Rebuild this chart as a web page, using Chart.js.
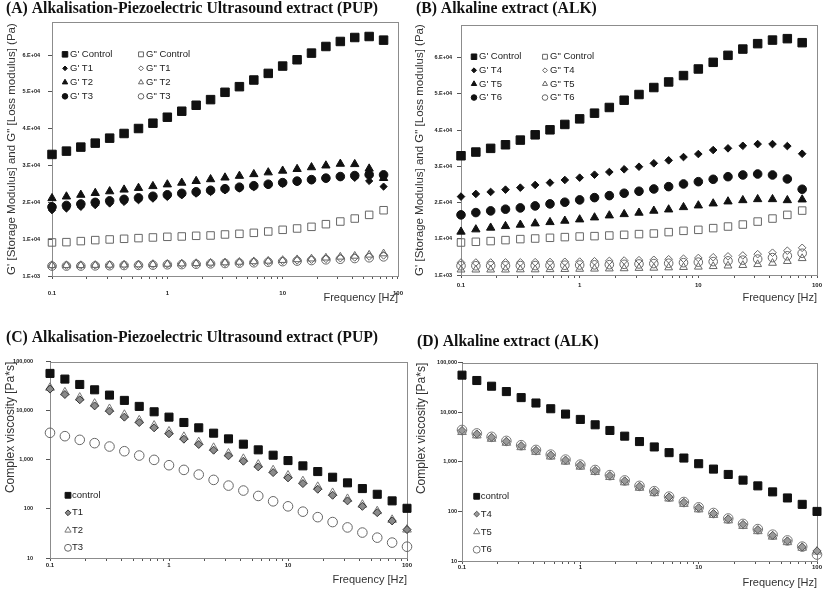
<!DOCTYPE html>
<html>
<head>
<meta charset="utf-8">
<script src="https://cdn.jsdelivr.net/npm/chart.js@4.4.1/dist/chart.umd.min.js"></script>
<style>
  html, body { margin: 0; padding: 0; background: #fff; }
  body { position: relative; width: 827px; height: 592px; overflow: hidden; }
  canvas { position: absolute; }
</style>
</head>
<body>
<canvas id="chartA" width="414" height="308" style="left:0;top:0"></canvas>
<canvas id="chartB" width="417" height="308" style="left:410px;top:0"></canvas>
<canvas id="chartC" width="414" height="266" style="left:0;top:326px"></canvas>
<canvas id="chartD" width="417" height="266" style="left:410px;top:326px"></canvas>
<script>
// frequency sweep, 8 points per decade
const freqHz = [0.1, 0.1334, 0.1778, 0.2371, 0.3162, 0.4217, 0.5623, 0.7499,
  1, 1.334, 1.778, 2.371, 3.162, 4.217, 5.623, 7.499,
  10, 13.34, 17.78, 23.71, 31.62, 42.17, 56.23, 74.99, 100];

const xTickValues = [0.1, 1, 10, 100];
const xTickLabels = ['0.1', '1', '10', '100'];
const modTickValues = [1000, 11000, 21000, 31000, 41000, 51000, 61000];
const modTickLabels = ['1.E+03', '1.E+04', '2.E+04', '3.E+04', '4.E+04', '5.E+04', '6.E+04'];
const viscTickValues = [10, 100, 1000, 10000, 100000];
const viscTickLabels = ['10', '100', '1,000', '10,000', '100,000'];

// (A) PUP - storage / loss modulus (Pa)
const pupGpControl = [34030, 34930, 36020, 37100, 38450, 39720, 41070, 42520, 44140, 45770, 47390, 48920, 50910, 52440, 54250, 56050, 58040, 59750, 61560, 63360, 64720, 65800, 66070, 65080];
const pupGppControl = [10120, 10200, 10480, 10750, 10930, 11110, 11290, 11470, 11650, 11740, 11920, 12010, 12280, 12460, 12730, 13090, 13550, 13910, 14360, 15080, 15800, 16610, 17610, 18870];
const pupGpT1 = [18870, 19330, 19770, 20230, 20690, 21120, 21580, 22010, 22470, 22910, 23370, 23800, 24260, 24720, 25150, 25610, 26050, 26510, 26940, 27400, 27810, 27670, 26810, 25290];
const pupGppT1 = [3850, 3850, 3850, 3900, 3950, 4000, 4050, 4100, 4200, 4250, 4350, 4450, 4550, 4650, 4800, 4950, 5100, 5250, 5450, 5650, 5850, 6050, 6300, 6600];
const pupGpT2 = [22120, 22580, 23040, 23530, 23990, 24450, 24910, 25400, 25860, 26320, 26780, 27270, 27730, 28190, 28650, 29130, 29590, 30050, 30520, 31000, 31460, 31380, 30160, 27600];
const pupGppT2 = [3900, 3900, 3900, 3950, 4000, 4050, 4100, 4200, 4250, 4350, 4450, 4550, 4650, 4800, 4950, 5100, 5300, 5500, 5700, 5950, 6200, 6450, 6750, 7100];
const pupGpT3 = [19770, 20170, 20580, 21010, 21420, 21820, 22230, 22660, 23070, 23470, 23880, 24290, 24720, 25130, 25530, 25940, 26370, 26780, 27180, 27590, 28020, 28290, 28540, 28480];
const pupGppT3 = [3700, 3700, 3700, 3750, 3800, 3850, 3900, 3950, 4050, 4100, 4200, 4300, 4400, 4500, 4600, 4750, 4900, 5050, 5200, 5400, 5550, 5750, 5950, 6200];

// (B) ALK - storage / loss modulus (Pa)
const alkGpControl = [33920, 34940, 35960, 36950, 38240, 39700, 41080, 42560, 44100, 45670, 47240, 49250, 50820, 52750, 54290, 56050, 57870, 59710, 61640, 63370, 64860, 65850, 66240, 65130];
const alkGppControl = [9970, 10170, 10360, 10630, 10910, 11070, 11270, 11460, 11620, 11730, 11900, 12090, 12290, 12450, 12840, 13190, 13470, 13940, 14380, 14930, 15750, 16580, 17600, 18780];
const alkGpT4 = [22640, 23380, 23930, 24560, 25110, 25860, 26490, 27230, 27870, 28690, 29430, 30180, 30890, 31830, 32650, 33560, 34390, 35490, 35960, 36670, 37140, 37140, 36590, 34470];
const alkGppT4 = [4450, 4450, 4450, 4480, 4500, 4550, 4600, 4650, 4700, 4800, 4900, 5000, 5100, 5200, 5350, 5500, 5700, 5900, 6150, 6400, 6750, 7150, 7700, 8500];
const alkGpT5 = [12940, 13570, 14040, 14480, 14860, 15220, 15580, 15960, 16320, 16870, 17420, 17780, 18170, 18720, 19070, 19710, 20180, 20730, 21280, 21630, 21910, 21910, 21630, 21830];
const alkGppT5 = [2450, 2450, 2450, 2450, 2500, 2500, 2550, 2600, 2650, 2700, 2750, 2800, 2900, 2950, 3050, 3150, 3250, 3400, 3550, 3700, 3950, 4300, 4800, 5600];
const alkGpT6 = [17600, 18230, 18700, 19170, 19520, 20070, 20630, 21090, 21730, 22360, 22910, 23570, 24120, 24750, 25390, 26130, 26760, 27420, 28140, 28610, 28880, 28610, 27510, 24670];
const alkGppT6 = [3550, 3550, 3550, 3550, 3600, 3600, 3650, 3700, 3750, 3800, 3850, 3950, 4050, 4150, 4250, 4400, 4550, 4700, 4900, 5100, 5400, 5800, 6300, 7000];

// (C) PUP - complex viscosity (Pa*s)
const pupViscControl = [57800, 44300, 34400, 26800, 20900, 16300, 12300, 9550, 7430, 5780, 4500, 3500, 2680, 2090, 1600, 1245, 968, 755, 578, 443, 340, 260, 199, 146, 103];
const pupViscT1 = [27700, 21500, 16800, 12600, 9850, 7430, 5780, 4500, 3400, 2640, 2060, 1575, 1210, 940, 720, 551, 430, 329, 252, 190, 146, 113, 84, 57, 38];
const pupViscT2 = [29500, 23800, 18600, 14000, 10900, 8300, 6400, 5000, 3800, 2950, 2300, 1760, 1350, 1050, 800, 615, 480, 368, 282, 212, 160, 122, 90, 60, 38];
const pupViscT3 = [3560, 3040, 2560, 2190, 1870, 1500, 1225, 1000, 778, 625, 502, 391, 299, 237, 184, 143, 113, 88, 68, 54, 42, 33, 26, 20.6, 17];

// (D) ALK - complex viscosity (Pa*s)
const alkViscControl = [56200, 43800, 33600, 26200, 19800, 15400, 11800, 9210, 7180, 5600, 4300, 3300, 2570, 2000, 1535, 1195, 918, 715, 557, 428, 328, 248, 187, 139, 100];
const alkViscT4 = [4300, 3670, 3140, 2610, 2130, 1710, 1380, 1090, 863, 672, 532, 415, 323, 252, 196, 153, 119, 91, 71, 55, 43, 33, 25.5, 19.2, 16];
const alkViscT5 = [4000, 3420, 2920, 2430, 1980, 1590, 1280, 1010, 800, 625, 495, 386, 300, 234, 182, 142, 110, 85, 66, 51, 40, 31, 24, 18.5, 15.5];
const alkViscT6 = [4400, 3750, 3200, 2650, 2170, 1740, 1400, 1110, 880, 685, 540, 422, 328, 256, 199, 155, 121, 93, 72, 56, 44, 34, 26, 19.5, 13.5];

const SANS = "'Liberation Sans', Arial, sans-serif";
const SERIF = "'Liberation Serif', 'Times New Roman', serif";
const INK = '#111';
const OPEN = 'rgba(0,0,0,0)';

Chart.defaults.font.family = SANS;
Chart.defaults.color = '#222';

function pts(vals) {
  return vals.map((v, i) => ({ x: freqHz[i], y: v }));
}

function series(label, vals, shape, radius, fill, edge) {
  return {
    label: label,
    data: pts(vals),
    pointStyle: shape,
    pointRadius: radius,
    pointHoverRadius: radius,
    pointBackgroundColor: fill,
    pointBorderColor: edge,
    pointBorderWidth: 1,
    showLine: false,
    clip: false
  };
}

// box round the plot area
const framePlugin = {
  id: 'frame',
  beforeDatasetsDraw(chart) {
    const { ctx, chartArea: a } = chart;
    ctx.save();
    ctx.strokeStyle = '#8c8c8c';
    ctx.lineWidth = 1;
    ctx.strokeRect(Math.round(a.left) + 0.5, Math.round(a.top) + 0.5,
      Math.round(a.right - a.left), Math.round(a.bottom - a.top));
    ctx.restore();
  }
};

// Excel style legend: fixed grid of markers + labels inside the plot
const gridLegend = {
  id: 'gridLegend',
  afterDraw(chart, args, o) {
    const { ctx, chartArea: a } = chart;
    ctx.save();
    ctx.font = o.font;
    ctx.textBaseline = 'middle';
    chart.data.datasets.forEach((ds, i) => {
      const col = i % o.cols;
      const row = Math.floor(i / o.cols);
      const x = a.left + o.x + col * o.colWidth;
      const y = (o.fromBottom ? a.bottom : a.top) + o.y + row * o.rowHeight;
      ctx.fillStyle = ds.pointBackgroundColor;
      ctx.strokeStyle = ds.pointBorderColor;
      ctx.lineWidth = 1;
      Chart.helpers.drawPoint(ctx, {
        pointStyle: ds.pointStyle, rotation: 0,
        radius: ds.pointRadius * o.scale, borderWidth: 1
      }, x, y);
      ctx.fillStyle = '#222';
      ctx.fillText(ds.label, x + o.textDx, y);
    });
    ctx.restore();
  }
};

function xAxis(p) {
  return {
    type: 'logarithmic',
    min: 0.1,
    max: 100,
    afterBuildTicks: s => {
      const t = [];
      for (let d = 0; d < xTickValues.length - 1; d++) {
        for (let k = 1; k < 10; k++) t.push({ value: xTickValues[d] * k });
      }
      t.push({ value: xTickValues[xTickValues.length - 1] });
      s.ticks = t;
    },
    afterFit: s => { s.height = p.h; },
    grid: { drawOnChartArea: false, tickLength: 3, color: '#555' },
    border: { color: '#555' },
    ticks: {
      autoSkip: false, maxRotation: 0, padding: p.tickPad,
      font: { size: 6, weight: 'bold' }, color: '#222',
      callback: v => {
        const i = xTickValues.findIndex(t => Math.abs(t - v) < t * 1e-6);
        return i < 0 ? '' : xTickLabels[i];
      }
    },
    title: {
      display: true, text: 'Frequency [Hz]', align: 'end', color: '#333',
      font: { size: 11 }, padding: { top: 0, bottom: p.titlePad }
    }
  };
}

function modulusAxis(p) {
  return {
    type: 'linear',
    min: 1000,
    max: 70000,
    afterBuildTicks: s => { s.ticks = modTickValues.map(v => ({ value: v })); },
    afterFit: s => { s.width = p.w; },
    grid: { drawOnChartArea: false, tickLength: 4, color: '#555' },
    border: { color: '#555' },
    ticks: {
      autoSkip: false, padding: p.tickPad, font: { size: 5.5, weight: 'bold' }, color: '#222',
      callback: (v, i) => modTickLabels[i]
    },
    title: {
      display: true, text: 'G\' [Storage Modulus] and G" [Loss modulus] (Pa)', color: '#333',
      font: { size: 11.5 }, padding: { top: p.titlePad, bottom: 0 }
    }
  };
}

function viscosityAxis(p) {
  return {
    type: 'logarithmic',
    min: 10,
    max: 100000,
    afterBuildTicks: s => { s.ticks = viscTickValues.map(v => ({ value: v })); },
    afterFit: s => { s.width = p.w; },
    grid: { drawOnChartArea: false, tickLength: 4, color: '#555' },
    border: { color: '#555' },
    ticks: {
      autoSkip: false, padding: p.tickPad, font: { size: 5.5, weight: 'bold' }, color: '#222',
      callback: (v, i) => viscTickLabels[i]
    },
    title: {
      display: true, text: 'Complex viscosity [Pa*s]', align: 'end', color: '#333',
      font: { size: 12 }, padding: { top: p.titlePad, bottom: 0 }
    }
  };
}

function makeChart(id, p) {
  return new Chart(document.getElementById(id), {
    type: 'scatter',
    data: { datasets: p.datasets },
    plugins: [framePlugin, gridLegend],
    options: {
      responsive: false,
      animation: false,
      events: [],
      layout: { autoPadding: false, padding: { left: p.padLeft, right: p.padRight, top: 0, bottom: 0 } },
      plugins: {
        legend: { display: false },
        tooltip: { enabled: false },
        title: {
          display: true, text: p.title, align: 'start', color: '#111',
          font: { family: SERIF, size: 15.7, weight: 'bold', lineHeight: 1.2 },
          padding: p.titlePadding
        },
        gridLegend: p.legend
      },
      scales: { x: xAxis(p.x), y: p.y }
    }
  });
}

const topLegendFont = "9.5px " + SANS;

makeChart('chartA', {
  title: '(A) Alkalisation-Piezoelectric Ultrasound extract (PUP)',
  titlePadding: { top: 0, bottom: 3.2 },
  padLeft: 6, padRight: 6,
  datasets: [
    series("G' Control", pupGpControl, 'rect', 6, INK, INK),
    series('G" Control', pupGppControl, 'rect', 5.3, OPEN, '#666'),
    series("G' T1", pupGpT1, 'rectRot', 3.6, INK, INK),
    series('G" T1', pupGppT1, 'rectRot', 3.8, OPEN, '#666'),
    series("G' T2", pupGpT2, 'triangle', 4.8, INK, INK),
    series('G" T2', pupGppT2, 'triangle', 4.5, OPEN, '#666'),
    series("G' T3", pupGpT3, 'circle', 4.3, INK, INK),
    series('G" T3', pupGppT3, 'circle', 4.3, OPEN, '#666')
  ],
  legend: { cols: 2, x: 13, y: 32.3, colWidth: 76, rowHeight: 14, textDx: 5, scale: 0.65, font: topLegendFont },
  x: { h: 32, tickPad: 11, titlePad: 3.4 },
  y: modulusAxis({ w: 46, tickPad: 8, titlePad: -0.9 })
});

makeChart('chartB', {
  title: '(B) Alkaline extract (ALK)',
  titlePadding: { top: 0, bottom: 6.2 },
  padLeft: 6, padRight: 10,
  datasets: [
    series("G' Control", alkGpControl, 'rect', 6, INK, INK),
    series('G" Control', alkGppControl, 'rect', 5.3, OPEN, '#666'),
    series("G' T4", alkGpT4, 'rectRot', 3.8, INK, INK),
    series('G" T4', alkGppT4, 'rectRot', 3.8, OPEN, '#666'),
    series("G' T5", alkGpT5, 'triangle', 4.8, INK, INK),
    series('G" T5', alkGppT5, 'triangle', 4.5, OPEN, '#666'),
    series("G' T6", alkGpT6, 'circle', 4.3, INK, INK),
    series('G" T6', alkGppT6, 'circle', 4.3, OPEN, '#666')
  ],
  legend: { cols: 2, x: 13, y: 31.7, colWidth: 71, rowHeight: 13.6, textDx: 5, scale: 0.65, font: topLegendFont },
  x: { h: 33, tickPad: 3.4, titlePad: 3.4 },
  y: modulusAxis({ w: 45, tickPad: 5, titlePad: -2.9 })
});

makeChart('chartC', {
  title: '(C) Alkalisation-Piezoelectric Ultrasound extract (PUP)',
  titlePadding: { top: 2.4, bottom: 14.5 },
  padLeft: 6, padRight: 7,
  datasets: [
    series('control', pupViscControl, 'rect', 5.7, INK, INK),
    series('T1', pupViscT1, 'rectRot', 4, '#8a8a8a', '#333'),
    series('T2', pupViscT2, 'triangle', 5, OPEN, '#777'),
    series('T3', pupViscT3, 'circle', 4.8, OPEN, '#666')
  ],
  legend: { cols: 1, x: 18, y: -62.7, colWidth: 0, rowHeight: 17.5, textDx: 4, scale: 0.72, fromBottom: true, font: topLegendFont },
  x: { h: 34, tickPad: 1, titlePad: 5.4 },
  y: viscosityAxis({ w: 44, tickPad: 13, titlePad: -2.2 })
});

makeChart('chartD', {
  title: '(D) Alkaline extract (ALK)',
  titlePadding: { top: 6.4, bottom: 11.5 },
  padLeft: 7, padRight: 10,
  datasets: [
    series('control', alkViscControl, 'rect', 5.7, INK, INK),
    series('T4', alkViscT4, 'rectRot', 4, '#9a9a9a', '#555'),
    series('T5', alkViscT5, 'triangle', 5, OPEN, '#777'),
    series('T6', alkViscT6, 'circle', 4.8, OPEN, '#777')
  ],
  legend: { cols: 1, x: 14.7, y: -64.7, colWidth: 0, rowHeight: 17.8, textDx: 4, scale: 0.72, fromBottom: true, font: topLegendFont },
  x: { h: 31, tickPad: 0, titlePad: 2.7 },
  y: viscosityAxis({ w: 45, tickPad: 1, titlePad: -2.2 })
});
</script>
</body>
</html>
